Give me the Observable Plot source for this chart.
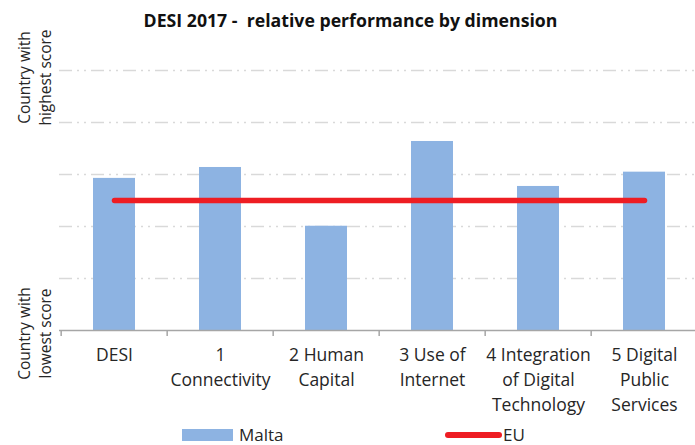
<!DOCTYPE html>
<html><head><meta charset="utf-8">
<script src="https://cdn.jsdelivr.net/npm/d3@7"></script>
<script src="https://cdn.jsdelivr.net/npm/@observablehq/plot@0.6"></script>
<style>
body{margin:0;background:#fff;font-family:"Open Sans",sans-serif;}
#wrap{position:relative;width:695px;height:445px;overflow:hidden;}
#title{position:absolute;top:8px;left:3px;width:695px;text-align:center;font-weight:bold;font-size:17.7px;white-space:pre;color:#111;z-index:2;}
#legend{position:absolute;top:425px;left:0;width:695px;height:20px;font-size:17px;line-height:20px;color:#262626;}
.item{position:absolute;top:0;height:20px;display:flex;align-items:center;}
.sw{display:inline-block;width:51px;height:12px;background:#8db3e2;margin-right:6px;}
.ln{display:inline-block;width:57px;height:6px;border-radius:3px;background:#ee1d23;margin-right:1px;}
</style></head>
<body>
<div id="wrap">
  <div id="title">DESI 2017 -  relative performance by dimension</div>
  <div id="chart"></div>
  <div id="legend">
    <div class="item" style="left:182px"><span class="sw"></span><span id="l1"></span></div>
    <div class="item" style="left:445px"><span class="ln"></span><span id="l2"></span></div>
  </div>
</div>
<script>
const categories = ["DESI","1 Connectivity","2 Human Capital","3 Use of Internet","4 Integration of Digital Technology","5 Digital Public Services"];
const tickLabels = ["DESI","1\nConnectivity","2 Human\nCapital","3 Use of\nInternet","4 Integration\nof Digital\nTechnology","5 Digital\nPublic\nServices"];
const malta = [0.585, 0.627, 0.401, 0.727, 0.554, 0.609];
const eu = [0.5, 0.5, 0.5, 0.5, 0.5, 0.5];
const gridTicks = [0.2, 0.4, 0.6, 0.8, 1.0];
const lowValue = [0];
const highValue = [1];
const lowLabel = "Country with\nlowest score";
const highLabel = "Country with\nhighest score";
const seriesNames = ["Malta", "EU"];

document.getElementById("l1").textContent = seriesNames[0];
document.getElementById("l2").textContent = seriesNames[1];

const data = categories.map((c, i) => ({cat: c, malta: malta[i], eu: eu[i]}));
const xRange = [59, 699];
const bw = (xRange[1] - xRange[0]) / categories.length;
const endStyle = {frameAnchor: "left", textAnchor: "middle", dx: -25.5, rotate: -90, lineHeight: 1.3, fontSize: 15.5, fill: "#262626"};

const chart = Plot.plot({
  width: 695, height: 422,
  marginLeft: 59, marginRight: 0, marginTop: 70, marginBottom: 92,
  x: {type: "band", domain: categories, range: xRange, padding: 0},
  y: {domain: [0, 1], axis: null},
  style: {fontFamily: "Open Sans", fontSize: "15px", color: "#262626", overflow: "visible", background: "white"},
  marks: [
    Plot.ruleY(gridTicks, {y: d => d, stroke: "#d9d9d9", strokeWidth: 1.5, strokeDasharray: "13,5,2,5,2,5"}),
    Plot.barY(data, {x: "cat", y: "malta", fill: "#8db3e2", insetLeft: 32, insetRight: 32}),
    Plot.line(data, {x: "cat", y: "eu", stroke: "#ee1d23", strokeWidth: 5.5, strokeLinecap: "round"}),
    Plot.ruleY([0], {stroke: "#a6a6a6", strokeWidth: 1.5}),
    Plot.axisX({tickSize: 6, tickFormat: () => "", label: null, dx: -bw / 2, stroke: "#a6a6a6", strokeWidth: 1.5, strokeOpacity: 1}),
    Plot.text(data, {x: "cat", text: (d, i) => tickLabels[i], frameAnchor: "bottom", dy: 13, lineAnchor: "top", lineHeight: 1.43, fontSize: 17.5, fill: "#262626"}),
    Plot.text(highValue, {y: d => d, text: () => highLabel, dy: 7, ...endStyle}),
    Plot.text(lowValue, {y: d => d, text: () => lowLabel, dy: 3, ...endStyle})
  ]
});
document.getElementById("chart").appendChild(chart);
</script>
</body></html>
